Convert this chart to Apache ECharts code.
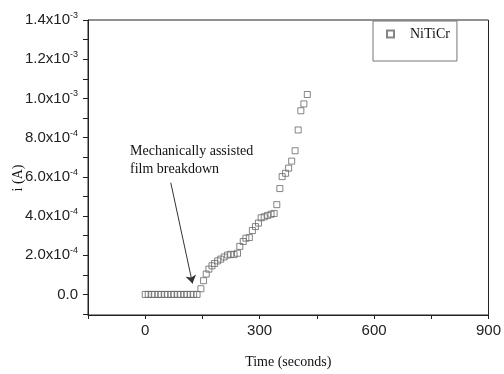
<!DOCTYPE html>
<html>
<head>
<meta charset="utf-8">
<script src="https://cdn.jsdelivr.net/npm/echarts@6/dist/echarts.min.js"></script>
<style>
  html, body { margin: 0; padding: 0; background: #fff; }
  #chart { width: 504px; height: 374px; }
</style>
</head>
<body>
<div id="chart"></div>
<script>
// NiTiCr current vs time
const times = [0, 8, 17, 25, 34, 42, 51, 59, 68, 76, 85, 93, 102, 110, 119, 127, 136,
  146, 153, 160, 167, 175, 182, 190, 198, 207, 216, 224, 233, 242, 248, 257, 264, 273,
  281, 289, 297, 304, 312, 321, 330, 338, 345, 353, 359, 368, 376, 384, 393, 401, 408, 416, 425]
const currents = [0, 0, 0, 0, 0, 0, 0, 0, 0, 0, 0, 0, 0, 0, 0, 0, 0,
  2.9e-5, 7.0e-5, 1.04e-4, 1.29e-4, 1.46e-4, 1.58e-4, 1.71e-4, 1.80e-4, 1.91e-4, 2.01e-4,
  2.05e-4, 2.03e-4, 2.10e-4, 2.45e-4, 2.70e-4, 2.87e-4, 2.90e-4, 3.26e-4, 3.46e-4, 3.64e-4,
  3.91e-4, 3.96e-4, 4.03e-4, 4.09e-4, 4.13e-4, 4.58e-4, 5.40e-4, 6.01e-4, 6.18e-4, 6.44e-4,
  6.80e-4, 7.33e-4, 8.39e-4, 9.37e-4, 9.72e-4, 1.02e-3]
const yLabelValues = [0, 2e-4, 4e-4, 6e-4, 8e-4, 1e-3, 1.2e-3, 1.4e-3]
const yTickValues = [-1e-4, 0, 1e-4, 2e-4, 3e-4, 4e-4, 5e-4, 6e-4, 7e-4, 8e-4, 9e-4,
  1e-3, 1.1e-3, 1.2e-3, 1.3e-3, 1.4e-3]
const seriesName = 'NiTiCr'

const chart = echarts.init(document.getElementById('chart'))
const sans = 'Liberation Sans'
const serif = 'Liberation Serif'

// 1.4x10^-3 style labels
function sciLabel(v) {
  if (Math.abs(v) < 1e-12) return '0.0'
  const exp = Math.floor(Math.log10(v) + 1e-9)
  const mant = v / Math.pow(10, exp)
  return mant.toFixed(1) + 'x10{s|' + exp + '}'
}

chart.setOption({
  animation: false,
  grid: {
    left: 88,
    right: 12,
    top: 20,
    bottom: 55,
    show: true,
    borderColor: '#222',
    borderWidth: 1
  },
  legend: {
    data: [seriesName],
    left: 373,
    top: 21,
    orient: 'vertical',
    padding: [6, 7, 20, 13],
    itemWidth: 7,
    itemHeight: 7,
    itemGap: 8,
    borderColor: '#777',
    borderWidth: 1,
    textStyle: { fontFamily: serif, fontSize: 14, color: '#111', padding: [0, 0, 0, 11] }
  },
  xAxis: {
    type: 'value',
    min: -150,
    max: 900,
    interval: 150,
    name: 'Time (seconds)',
    nameLocation: 'middle',
    nameGap: 40,
    nameTextStyle: { fontFamily: serif, fontSize: 14, color: '#111' },
    axisLine: { onZero: false, lineStyle: { color: '#222' } },
    axisTick: { length: 4, lineStyle: { color: '#222' } },
    axisLabel: {
      margin: 8,
      fontFamily: sans,
      fontSize: 15,
      color: '#222',
      formatter: v => (v % 300 === 0 ? String(v) : '')
    },
    splitLine: { show: false }
  },
  yAxis: {
    type: 'value',
    min: -1.05e-4,
    max: 1.4e-3,
    axisLine: { show: true, onZero: false, lineStyle: { color: '#222' } },
    axisTick: { show: true, length: 5, customValues: yTickValues, lineStyle: { color: '#222' } },
    axisLabel: {
      margin: 10,
      fontFamily: sans,
      fontSize: 15,
      color: '#222',
      customValues: yLabelValues,
      formatter: sciLabel,
      rich: {
        s: { fontFamily: sans, fontSize: 9, color: '#222', padding: [0, 0, 9, 0] }
      }
    },
    splitLine: { show: false }
  },
  graphic: [
    {
      type: 'text',
      x: 18,
      y: 178,
      rotation: Math.PI / 2,
      style: {
        text: 'i (A)',
        fontFamily: serif,
        fontSize: 14,
        fill: '#111',
        align: 'center',
        verticalAlign: 'middle'
      }
    },
    {
      type: 'text',
      x: 130,
      y: 142,
      style: {
        text: 'Mechanically assisted\nfilm breakdown',
        fontFamily: serif,
        fontSize: 14,
        lineHeight: 18,
        fill: '#111'
      }
    }
  ],
  series: [
    {
      name: seriesName,
      type: 'scatter',
      symbol: 'rect',
      symbolSize: 6,
      data: times.map((t, i) => [t, currents[i]]),
      itemStyle: { color: 'rgba(0,0,0,0)', borderColor: '#666', borderWidth: 1 },
      markLine: {
        silent: true,
        symbol: ['none', 'arrow'],
        symbolSize: 8,
        label: { show: false },
        lineStyle: { color: '#333', width: 1, type: 'solid' },
        data: [[{ coord: [67, 5.7e-4] }, { coord: [124, 5.6e-5] }]]
      }
    }
  ]
})
</script>
</body>
</html>
